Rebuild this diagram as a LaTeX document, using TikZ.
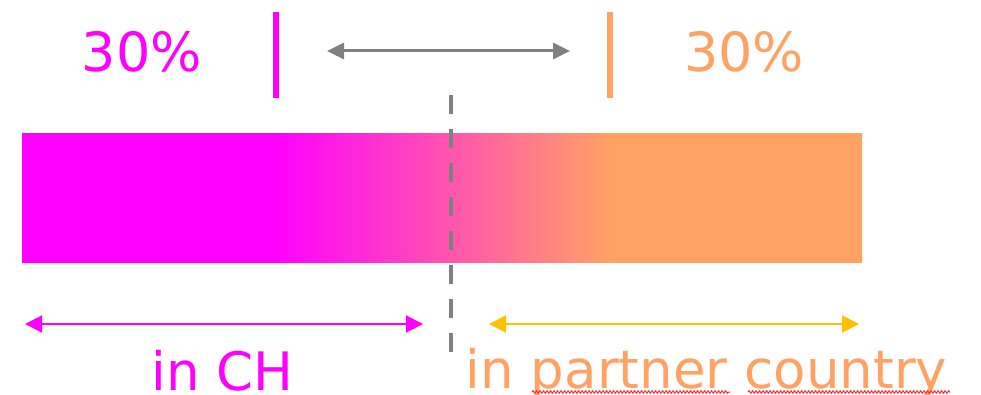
\documentclass[tikz,border=0pt]{standalone}
\usepackage{fontspec}
\setmainfont{DejaVu Sans}
\usetikzlibrary{arrows.meta,decorations.pathmorphing}
\definecolor{mag}{HTML}{FF00FF}
\definecolor{org}{HTML}{FFA264}
\definecolor{gld}{HTML}{FFC000}
\definecolor{gry}{HTML}{808080}
\definecolor{spell}{HTML}{FF3030}
\pgfdeclarehorizontalshading{barshade}{100bp}{color(0bp)=(mag); color(40bp)=(mag); color(60bp)=(org); color(100bp)=(org)}
\tikzset{
  bigtext/.style={inner sep=0pt, anchor=base, font=\fontsize{54}{60}\selectfont},
  lowtext/.style={inner sep=0pt, anchor=base, font=\fontsize{53}{60}\selectfont},
  marker/.style={line width=6pt},
  grayarrow/.style={draw=gry, line width=3pt, {Triangle[length=17pt,width=16pt]}-{Triangle[length=17pt,width=16pt]}},
  spanarrow/.style={line width=2pt, {Triangle[length=17pt,width=17pt]}-{Triangle[length=17pt,width=17pt]}},
  divider/.style={draw=gry, line width=4pt, dash pattern=on 19pt off 15pt},
  squiggle/.style={draw=spell, line width=1pt, decorate, decoration={snake, amplitude=1.3pt, segment length=3.5pt}}
}
\begin{document}
\begin{tikzpicture}[x=1pt,y=-1pt]
\useasboundingbox (0,0) rectangle (981,395);
% bar
\node[inner sep=0pt, outer sep=0pt, minimum width=840pt, minimum height=128pt, shading=barshade, anchor=north west] (bar) at (22,134) {};
% top labels
\node[bigtext, text=mag] (pL) at (142,72) {30\%};
\node[bigtext, text=org] (pR) at (744,72) {30\%};
% marker lines
\coordinate (mT) at (276,12); \coordinate (mB) at (276,98);
\coordinate (oT) at (610,12); \coordinate (oB) at (610,98);
\draw[marker, mag] (mT) -- (mB);
\draw[marker, org] (oT) -- (oB);
% gray double arrow
\coordinate (gL) at (327,51); \coordinate (gR) at (570,51);
\draw[grayarrow] (gL) -- (gR);
% dashed divider
\coordinate (dT) at (451,95); \coordinate (dB) at (451,360);
\draw[divider] (dT) -- (dB);
% bottom arrows
\coordinate (cL) at (25,324); \coordinate (cR) at (423,324);
\draw[spanarrow, mag] (cL) -- (cR);
\coordinate (yL) at (489,324); \coordinate (yR) at (859,324);
\draw[spanarrow, gld] (yL) -- (yR);
% bottom labels
\node[lowtext, text=mag] (ch) at (222.5,390) {in CH};
\node[lowtext, text=org] (pc) at (706.5,388) {in partner country};
% spell-check underlines
\coordinate (s1a) at (532,392); \coordinate (s1b) at (730,392);
\coordinate (s2a) at (748,392); \coordinate (s2b) at (950,392);
\draw[squiggle] (s1a) -- (s1b);
\draw[squiggle] (s2a) -- (s2b);
\end{tikzpicture}
\end{document}
